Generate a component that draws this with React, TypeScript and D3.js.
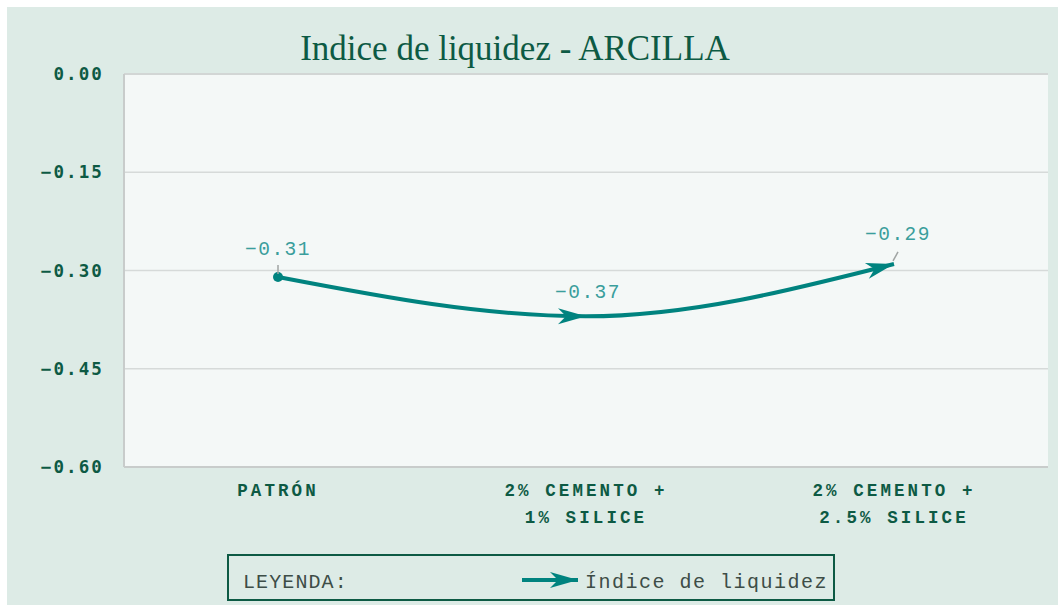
import React from "react";
import * as d3 from "d3";

const categories = ["PATRÓN", "2% CEMENTO +\n1% SILICE", "2% CEMENTO +\n2.5% SILICE"];
const values = [-0.31, -0.37, -0.29];
const yTicks = [0, -0.15, -0.3, -0.45, -0.6];
const title = "Indice de liquidez - ARCILLA";
const legendTitle = "LEYENDA:";
const seriesName = "Índice de liquidez";

const W = 1058, H = 605;
const plot = { left: 124, right: 1048, top: 74, bottom: 467 };
const LINE = "#00837f";
const LABEL = "#3a9e9c";
const DARK = "#0d5a44";

export default function App() {
  const x = d3.scaleBand<string>().domain(categories).range([plot.left, plot.right]);
  const y = d3.scaleLinear().domain([-0.6, 0]).range([plot.bottom, plot.top]);
  const pts: [number, number][] = values.map((v, i) => [x(categories[i])! + x.bandwidth() / 2, y(v)]);
  const line = d3.line().curve(d3.curveMonotoneX);
  const d = line(pts) || "";
  const fmt = d3.format(".2f");
  const mono = "'Liberation Mono', 'Courier New', monospace";
  const sansMono = "'DejaVu Sans Mono', monospace";
  const labelOffsets = [[0, -22], [2, -18], [4, -24]];
  return (
    <svg width={W} height={H} style={{ position: "absolute", left: 0, top: 0 }}>
      <defs>
        <marker id="arr" markerUnits="userSpaceOnUse" viewBox="-2 -10 34 20" markerWidth={34} markerHeight={20} refX={28} refY={0} orient="auto">
          <path d="M0,-8 L28,0 L0,8 L8,0 Z" fill={LINE} />
        </marker>
        <marker id="dot" markerUnits="userSpaceOnUse" viewBox="-6 -6 12 12" markerWidth={12} markerHeight={12} refX={0} refY={0}>
          <circle r={5} fill={LINE} />
        </marker>
      </defs>
      <rect x={7} y={7} width={W - 7} height={H - 7} fill="#ddebe6" />
      <rect x={plot.left} y={plot.top} width={plot.right - plot.left} height={plot.bottom - plot.top} fill="#f4f8f7" />
      {yTicks.slice(1, -1).map((t) => (
        <line key={t} x1={plot.left} x2={plot.right} y1={y(t)} y2={y(t)} stroke="#d6dad9" strokeWidth={1.5} />
      ))}
      <line x1={plot.left} x2={plot.right} y1={plot.top} y2={plot.top} stroke="#d2d6d5" strokeWidth={2} />
      <line x1={plot.left} x2={plot.right} y1={plot.bottom} y2={plot.bottom} stroke="#c8cccb" strokeWidth={2} />
      <line x1={plot.left} x2={plot.left} y1={plot.top} y2={plot.bottom} stroke="#c8cccb" strokeWidth={2} />
      {yTicks.map((t) => (
        <text key={t} x={104} y={y(t) + 6} textAnchor="end" fontFamily={sansMono} fontWeight="bold" fontSize={17.5} letterSpacing={2.1} fill={DARK}>
          {fmt(t)}
        </text>
      ))}
      <text x={515} y={60} textAnchor="middle" fontFamily="'Liberation Serif', serif" fontSize={35} fill={DARK}>{title}</text>
      {categories.map((c) => (
        <text key={c} textAnchor="middle" fontFamily={mono} fontWeight="bold" fontSize={17.5} letterSpacing={3.1} fill={DARK}>
          {c.split("\n").map((l, j) => (
            <tspan key={j} x={x(c)! + x.bandwidth() / 2} y={496 + j * 27}>{l}</tspan>
          ))}
        </text>
      ))}
      <path d={d} fill="none" stroke={LINE} strokeWidth={4} markerStart="url(#dot)" markerMid="url(#arr)" markerEnd="url(#arr)" />
      {pts.map((p, i) => (
        <g key={i}>
          {i !== 1 && (
            <line x1={p[0] + (i === 2 ? 4 : 0)} y1={p[1] - 12} x2={p[0] - (i === 2 ? 1 : 0)} y2={p[1] - 3} stroke="#a0a4a3" strokeWidth={1.5} />
          )}
          <text x={p[0] + labelOffsets[i][0]} y={p[1] + labelOffsets[i][1]} textAnchor="middle" fontFamily={mono} fontSize={19.5} letterSpacing={1.5} fill={LABEL}>
            {fmt(values[i])}
          </text>
        </g>
      ))}
      <rect x={228} y={555} width={606} height={45} fill="none" stroke={DARK} strokeWidth={2} />
      <text x={243} y={588} fontFamily={mono} fontSize={20} letterSpacing={1.1} fill="#3d4d47">{legendTitle}</text>
      <line x1={522} x2={578} y1={580} y2={580} stroke={LINE} strokeWidth={4} markerEnd="url(#arr)" />
      <text x={828} y={588} textAnchor="end" fontFamily={mono} fontSize={20} letterSpacing={1.5} fill="#3d4d47">{seriesName}</text>
    </svg>
  );
}
